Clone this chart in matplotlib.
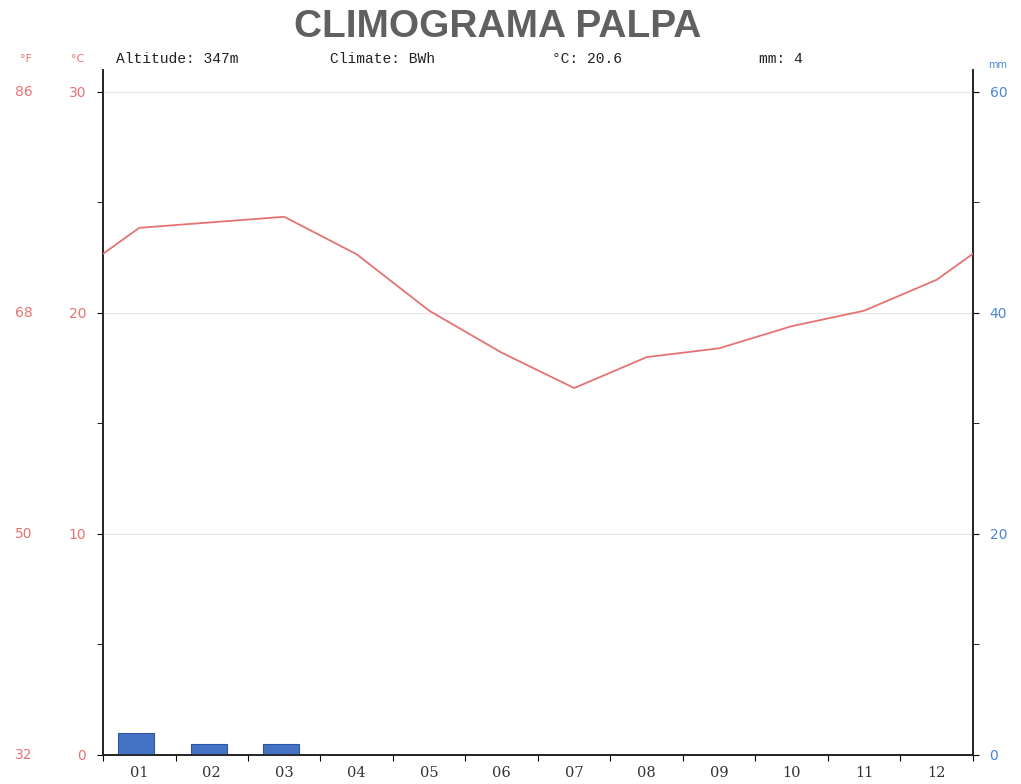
import numpy as np
import matplotlib
matplotlib.use('Agg')
import matplotlib.pyplot as plt

# Climogram data
months = ['01', '02', '03', '04', '05', '06', '07', '08', '09', '10', '11', '12']
temp_c = [23.85, 24.1, 24.35, 22.65, 20.1, 18.2, 16.6, 18.0, 18.4, 19.4, 20.1, 21.5]
precip_mm = [2, 1, 1, 0, 0, 0, 0, 0, 0, 0, 0, 0]
c_ticks = [0, 10, 20, 30]
f_labels = ['32', '50', '68', '86']
mm_ticks = [0, 20, 40, 60]

RED = '#e57373'
BLUE = '#4a86d8'
BAR = '#4472c4'

fig = plt.figure(figsize=(10.21, 7.84), dpi=100)
ax = fig.add_axes([0.1009, 0.037, 0.852, 0.874])
ax2 = ax.twinx()

n = len(months)
xc = np.arange(n) + 0.5

# the line wraps around the year: edges sit halfway between Dec and Jan
edge = (temp_c[0] + temp_c[-1]) / 2
line_x = np.concatenate([[0], xc, [n]])
line_y = np.concatenate([[edge], temp_c, [edge]])

ax.set_xlim(0, n)
ax.set_ylim(0, 31.0)
ax2.set_ylim(0, 62.0)

ax2.bar(xc - 0.04, precip_mm, width=0.5, color=BAR, edgecolor='#2f55a0', linewidth=0.8, zorder=3)
ax.plot(line_x, line_y, color=RED, lw=1.3, zorder=4)
ax.set_zorder(ax2.get_zorder() + 1)
ax.patch.set_visible(False)

for v in c_ticks[1:]:
    ax.axhline(v, color='#e8e8e8', lw=1.0, zorder=0)

# x axis
ax.set_xticks(np.arange(n + 1))
ax.set_xticklabels([])
ax.set_xticks(xc, minor=True)
ax.set_xticklabels(months, minor=True, fontsize=10.5, color='#333333',
                   family='DejaVu Serif')
ax.tick_params(axis='x', which='major', length=4, direction='out')
ax.tick_params(axis='x', which='minor', length=0, pad=8)

# left (°C / °F)
ax.set_yticks(c_ticks)
ax.set_yticklabels([str(v) for v in c_ticks], color=RED, fontsize=10)
ax.set_yticks([5, 15, 25], minor=True)
ax.tick_params(axis='y', which='both', length=4, direction='out', pad=8)
for v, lab in zip(c_ticks, f_labels):
    ax.text(-0.081, v, lab, transform=ax.get_yaxis_transform(), color=RED,
            fontsize=10, ha='right', va='center')

# right (mm)
ax2.set_yticks(mm_ticks)
ax2.set_yticklabels([str(v) for v in mm_ticks], color=BLUE, fontsize=10)
ax2.set_yticks([10, 30, 50], minor=True)
ax2.tick_params(axis='y', which='both', length=4, direction='out', pad=8)

for a in (ax, ax2):
    a.spines['top'].set_visible(False)
    for s in ('left', 'right', 'bottom'):
        a.spines[s].set_color('#222222')
        a.spines[s].set_linewidth(1.2)

# header texts
fig.text(0.487, 0.965, 'CLIMOGRAMA PALPA', ha='center', va='center',
         fontsize=28, fontweight='bold', color='#606060', family='Liberation Sans')
fig.text(0.020, 0.925, '°F', color=RED, fontsize=8, ha='left', va='center')
fig.text(0.070, 0.925, '°C', color=RED, fontsize=8, ha='left', va='center')
fig.text(0.968, 0.917, 'mm', color=BLUE, fontsize=7, ha='left', va='center')
info = [(0.114, 'Altitude: 347m'), (0.323, 'Climate: BWh'),
        (0.541, '°C: 20.6'), (0.743, 'mm: 4')]
for x, t in info:
    fig.text(x, 0.925, t, family='Liberation Mono', fontsize=10.5,
             color='#222222', ha='left', va='center')

fig.savefig('out.png', dpi=100)
